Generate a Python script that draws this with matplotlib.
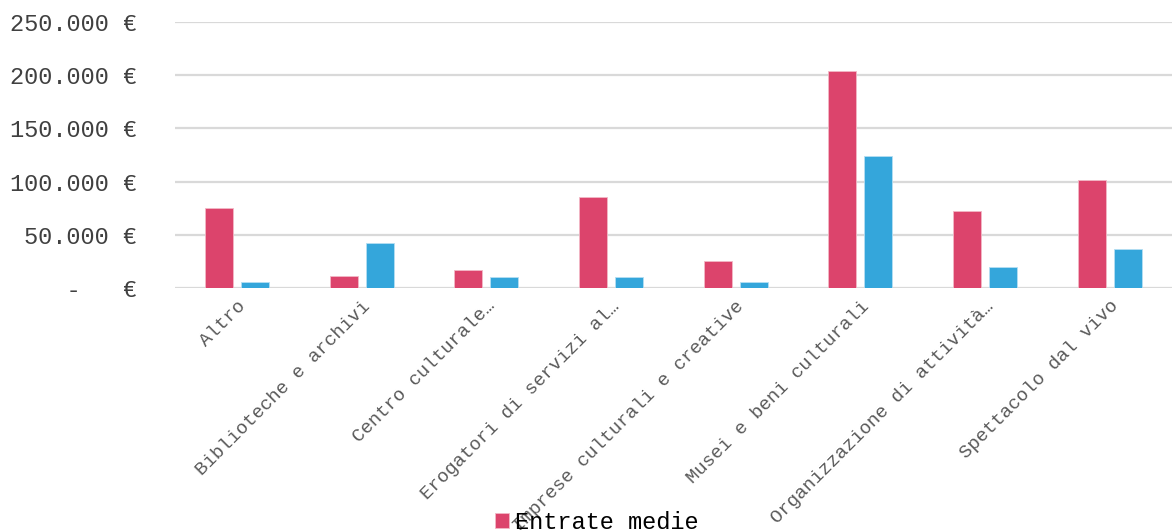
import numpy as np
import matplotlib.pyplot as plt
from matplotlib.ticker import FuncFormatter

categories = ["Altro", "Biblioteche e archivi", "Centro culturale…",
              "Erogatori di servizi al…", "Imprese culturali e creative",
              "Musei e beni culturali", "Organizzazione di attività…",
              "Spettacolo dal vivo"]
entrate = [75500, 11300, 16900, 85500, 25400, 204000, 72000, 101500]
uscite = [5600, 42500, 10300, 10300, 5600, 124500, 19400, 36400]
yticks = [0, 50000, 100000, 150000, 200000, 250000]

red = "#DC446C"
blue = "#34A6DB"
font = "Liberation Mono"

fig = plt.figure(figsize=(11.72, 5.30), dpi=100)
ax = fig.add_axes([0.149, 0.457, 0.851, 0.501])

x = np.arange(len(categories))
w = 0.225
off = 0.144
b1 = ax.bar(x - off, entrate, w, color=red, edgecolor="#f2b8c6", linewidth=0.6,
            label="Entrate medie", zorder=3)
ax.bar(x + off, uscite, w, color=blue, edgecolor="#b5def2", linewidth=0.6, zorder=3)

ax.set_xlim(-0.5, len(categories) - 0.5)
ax.set_ylim(0, 250000)
ax.set_yticks(yticks)


def fmt(v, pos):
    if v == 0:
        return "    -   €"
    return f"{int(v):,} €".replace(",", ".")


ax.yaxis.set_major_formatter(FuncFormatter(fmt))
ax.grid(axis="y", color="#d9d9d9", linewidth=1.6, zorder=0)
ax.set_axisbelow(True)
for s in ax.spines.values():
    s.set_visible(False)
ax.tick_params(axis="both", length=0)
ax.tick_params(axis="y", pad=27)
ax.tick_params(axis="x", pad=7)
ax.set_xticks(x)
ax.set_xticklabels(categories, rotation=45, ha="right", rotation_mode="anchor",
                   fontsize=13.6, family=font, color="#595959")
for lbl in ax.get_yticklabels():
    lbl.set_fontsize(17)
    lbl.set_family(font)
    lbl.set_color("#404040")

fig.legend(handles=[b1], loc="center", bbox_to_anchor=(0.509, 0.015),
           frameon=False, prop={"family": font, "size": 17},
           handlelength=0.6, handleheight=0.6, handletextpad=0.25)

fig.savefig("out.png", dpi=100)
